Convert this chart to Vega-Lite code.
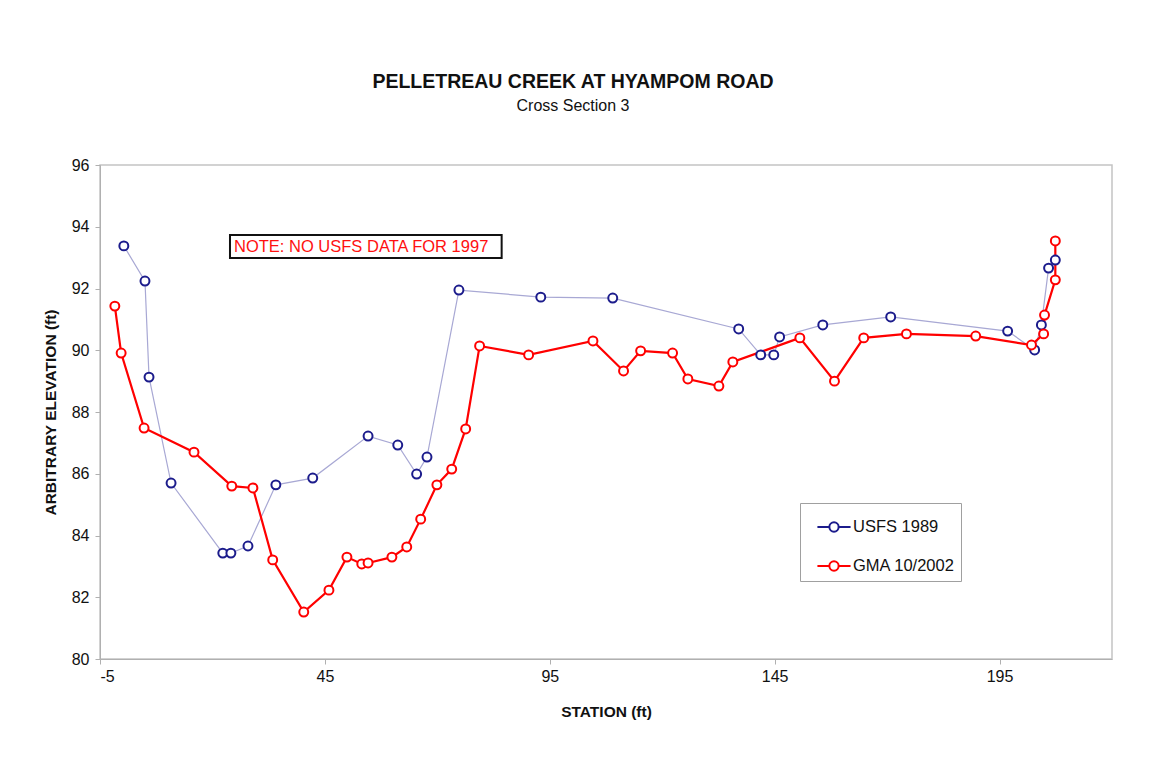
{
  "$schema": "https://vega.github.io/schema/vega-lite/v6.json",
  "autosize": {"type": "none"},
  "padding": {"left": 100, "top": 165, "right": 39, "bottom": 98},
  "width": 1012,
  "height": 494,
  "background": "white",
  "config": {
    "font": "Liberation Sans",
    "view": {"stroke": "#c4c4c4", "strokeWidth": 1.5},
    "axis": {"grid": false, "domainColor": "#b0b0b0", "tickColor": "#b0b0b0", "tickSize": 5, "labelFontSize": 16, "labelColor": "#111", "titleFontSize": 15.5, "titleFontWeight": "bold", "titleColor": "#111", "labelFont": "Liberation Sans", "titleFont": "Liberation Sans"}
  },
  "title": {
    "text": "PELLETREAU CREEK AT HYAMPOM ROAD",
    "subtitle": "Cross Section 3",
    "fontSize": 19.5,
    "fontWeight": "bold",
    "subtitleFontSize": 16,
    "subtitleColor": "#111",
    "color": "#111",
    "anchor": "middle",
    "dx": -33,
    "offset": 42,
    "subtitlePadding": 6,
    "font": "Liberation Sans",
    "subtitleFont": "Liberation Sans"
  },
  "datasets": {
    "survey": [
      {"series": "USFS 1989", "seq": 1, "station": 0.3, "elev": 93.38},
      {"series": "USFS 1989", "seq": 2, "station": 5.0, "elev": 92.24},
      {"series": "USFS 1989", "seq": 3, "station": 5.9, "elev": 89.13},
      {"series": "USFS 1989", "seq": 4, "station": 10.8, "elev": 85.70},
      {"series": "USFS 1989", "seq": 5, "station": 22.3, "elev": 83.43},
      {"series": "USFS 1989", "seq": 6, "station": 24.1, "elev": 83.43},
      {"series": "USFS 1989", "seq": 7, "station": 27.9, "elev": 83.66},
      {"series": "USFS 1989", "seq": 8, "station": 34.1, "elev": 85.64},
      {"series": "USFS 1989", "seq": 9, "station": 42.3, "elev": 85.86},
      {"series": "USFS 1989", "seq": 10, "station": 54.6, "elev": 87.22},
      {"series": "USFS 1989", "seq": 11, "station": 61.2, "elev": 86.93},
      {"series": "USFS 1989", "seq": 12, "station": 65.4, "elev": 85.99},
      {"series": "USFS 1989", "seq": 13, "station": 67.7, "elev": 86.54},
      {"series": "USFS 1989", "seq": 14, "station": 74.8, "elev": 91.95},
      {"series": "USFS 1989", "seq": 15, "station": 93.0, "elev": 91.72},
      {"series": "USFS 1989", "seq": 16, "station": 109.0, "elev": 91.69},
      {"series": "USFS 1989", "seq": 17, "station": 137.0, "elev": 90.69},
      {"series": "USFS 1989", "seq": 18, "station": 141.9, "elev": 89.85},
      {"series": "USFS 1989", "seq": 19, "station": 144.8, "elev": 89.85},
      {"series": "USFS 1989", "seq": 20, "station": 146.1, "elev": 90.43},
      {"series": "USFS 1989", "seq": 21, "station": 155.7, "elev": 90.82},
      {"series": "USFS 1989", "seq": 22, "station": 170.8, "elev": 91.08},
      {"series": "USFS 1989", "seq": 23, "station": 196.8, "elev": 90.62},
      {"series": "USFS 1989", "seq": 24, "station": 202.8, "elev": 90.01},
      {"series": "USFS 1989", "seq": 25, "station": 204.3, "elev": 90.82},
      {"series": "USFS 1989", "seq": 26, "station": 205.9, "elev": 92.66},
      {"series": "USFS 1989", "seq": 27, "station": 207.4, "elev": 92.92},
      {"series": "GMA 10/2002", "seq": 1, "station": -1.7, "elev": 91.43},
      {"series": "GMA 10/2002", "seq": 2, "station": -0.3, "elev": 89.91},
      {"series": "GMA 10/2002", "seq": 3, "station": 4.8, "elev": 87.48},
      {"series": "GMA 10/2002", "seq": 4, "station": 15.9, "elev": 86.70},
      {"series": "GMA 10/2002", "seq": 5, "station": 24.3, "elev": 85.60},
      {"series": "GMA 10/2002", "seq": 6, "station": 29.0, "elev": 85.54},
      {"series": "GMA 10/2002", "seq": 7, "station": 33.4, "elev": 83.21},
      {"series": "GMA 10/2002", "seq": 8, "station": 40.3, "elev": 81.52},
      {"series": "GMA 10/2002", "seq": 9, "station": 45.9, "elev": 82.23},
      {"series": "GMA 10/2002", "seq": 10, "station": 49.9, "elev": 83.30},
      {"series": "GMA 10/2002", "seq": 11, "station": 53.2, "elev": 83.08},
      {"series": "GMA 10/2002", "seq": 12, "station": 54.6, "elev": 83.11},
      {"series": "GMA 10/2002", "seq": 13, "station": 59.9, "elev": 83.30},
      {"series": "GMA 10/2002", "seq": 14, "station": 63.2, "elev": 83.63},
      {"series": "GMA 10/2002", "seq": 15, "station": 66.3, "elev": 84.53},
      {"series": "GMA 10/2002", "seq": 16, "station": 69.9, "elev": 85.64},
      {"series": "GMA 10/2002", "seq": 17, "station": 73.2, "elev": 86.15},
      {"series": "GMA 10/2002", "seq": 18, "station": 76.3, "elev": 87.45},
      {"series": "GMA 10/2002", "seq": 19, "station": 79.4, "elev": 90.14},
      {"series": "GMA 10/2002", "seq": 20, "station": 90.3, "elev": 89.85},
      {"series": "GMA 10/2002", "seq": 21, "station": 104.6, "elev": 90.30},
      {"series": "GMA 10/2002", "seq": 22, "station": 111.4, "elev": 89.33},
      {"series": "GMA 10/2002", "seq": 23, "station": 115.2, "elev": 89.98},
      {"series": "GMA 10/2002", "seq": 24, "station": 122.3, "elev": 89.91},
      {"series": "GMA 10/2002", "seq": 25, "station": 125.7, "elev": 89.07},
      {"series": "GMA 10/2002", "seq": 26, "station": 132.6, "elev": 88.84},
      {"series": "GMA 10/2002", "seq": 27, "station": 135.7, "elev": 89.62},
      {"series": "GMA 10/2002", "seq": 28, "station": 150.6, "elev": 90.40},
      {"series": "GMA 10/2002", "seq": 29, "station": 158.3, "elev": 89.00},
      {"series": "GMA 10/2002", "seq": 30, "station": 164.8, "elev": 90.40},
      {"series": "GMA 10/2002", "seq": 31, "station": 174.3, "elev": 90.53},
      {"series": "GMA 10/2002", "seq": 32, "station": 189.7, "elev": 90.46},
      {"series": "GMA 10/2002", "seq": 33, "station": 202.1, "elev": 90.17},
      {"series": "GMA 10/2002", "seq": 34, "station": 204.8, "elev": 90.53},
      {"series": "GMA 10/2002", "seq": 35, "station": 205.0, "elev": 91.14},
      {"series": "GMA 10/2002", "seq": 36, "station": 207.4, "elev": 92.28},
      {"series": "GMA 10/2002", "seq": 37, "station": 207.4, "elev": 93.54}
    ],
    "note": [
      {"station": 23.9, "station2": 84.3, "elev": 93.73, "elev2": 92.99, "tstation": 24.8, "telev": 93.36, "label": "NOTE: NO USFS DATA FOR 1997"}
    ]
  },
  "layer": [
    {
      "data": {"name": "survey"},
      "mark": {"type": "line", "clip": false},
      "encoding": {
        "x": {"field": "station", "type": "quantitative", "scale": {"domain": [-5, 220], "nice": false, "zero": false}, "axis": {"title": "STATION (ft)", "values": [-5, 45, 95, 145, 195], "labelExpr": "'' + datum.value", "labelPadding": 4, "titlePadding": 20}},
        "y": {"field": "elev", "type": "quantitative", "scale": {"domain": [80, 96], "nice": false, "zero": false}, "axis": {"title": "ARBITRARY ELEVATION (ft)", "values": [80, 82, 84, 86, 88, 90, 92, 94, 96], "labelPadding": 6, "titlePadding": 13}},
        "order": {"field": "seq", "type": "quantitative"},
        "detail": {"field": "series"},
        "stroke": {"field": "series", "type": "nominal", "scale": {"domain": ["GMA 10/2002", "USFS 1989"], "range": ["#ff0000", "#a8a8d4"]}, "legend": null},
        "strokeWidth": {"field": "series", "type": "nominal", "scale": {"domain": ["GMA 10/2002", "USFS 1989"], "range": [2.2, 1.2]}, "legend": null}
      }
    },
    {
      "data": {"name": "survey"},
      "mark": {"type": "point", "shape": "circle", "filled": false, "fill": "white", "fillOpacity": 1, "size": 80, "strokeWidth": 2, "opacity": 1},
      "encoding": {
        "x": {"field": "station", "type": "quantitative"},
        "y": {"field": "elev", "type": "quantitative"},
        "color": {"field": "series", "type": "nominal", "scale": {"domain": ["USFS 1989", "GMA 10/2002"], "range": ["#1c1c8c", "#ff0000"]},
          "legend": {"title": null, "orient": "none", "legendX": 700, "legendY": 338, "direction": "vertical", "strokeColor": "#a0a0a0", "fillColor": "white", "padding": 6, "labelFontSize": 16.5, "labelColor": "#111", "labelFont": "Liberation Sans", "rowPadding": 12, "symbolType": "M-1,0H-0.28M0.28,0H1M-0.28,0A0.28,0.28,0,1,1,0.28,0A0.28,0.28,0,1,1,-0.28,0Z", "symbolSize": 1100, "symbolStrokeWidth": 2, "symbolFillColor": "white", "symbolOffset": 10, "labelOffset": 1, "offset": 0}}
      }
    },
    {
      "data": {"name": "note"},
      "mark": {"type": "rect", "fill": "white", "stroke": "#111", "strokeWidth": 2},
      "encoding": {
        "x": {"field": "station", "type": "quantitative"},
        "x2": {"field": "station2"},
        "y": {"field": "elev", "type": "quantitative"},
        "y2": {"field": "elev2"}
      }
    },
    {
      "data": {"name": "note"},
      "mark": {"type": "text", "align": "left", "baseline": "middle", "color": "#ff1010", "fontSize": 16.5, "font": "Liberation Sans"},
      "encoding": {
        "x": {"field": "tstation", "type": "quantitative"},
        "y": {"field": "telev", "type": "quantitative"},
        "text": {"field": "label"}
      }
    }
  ]
}
